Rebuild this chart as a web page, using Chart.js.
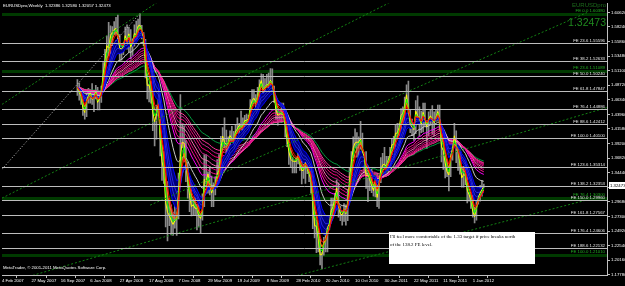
<!DOCTYPE html>
<html>
<head>
<meta charset="utf-8">
<script src="https://cdn.jsdelivr.net/npm/chart.js@4.4.1/dist/chart.umd.min.js"></script>
<style>
  html, body { margin: 0; padding: 0; background: #000; }
  #wrap { width: 625px; height: 286px; position: relative; }
</style>
</head>
<body>
<div id="wrap"><canvas id="chart" width="625" height="286"></canvas></div>
<script>
// weekly bars, week 0 = 4 Feb 2007, first bar is week 41 (18 Nov 2007)
const firstWeek = 41;
const highs = [
  1.4966,1.4910,1.4790,1.4760,1.4440,1.4740,1.4820,1.4790,1.4900,1.4780,
  1.4870,1.4840,1.4750,1.4860,1.5240,1.5460,1.5680,1.5900,1.5840,1.5830,
  1.5910,1.5980,1.6018,1.5700,1.5510,1.5560,1.5820,1.5860,1.5820,1.5780,
  1.5630,1.5860,1.5920,1.5950,1.6038,1.5850,1.5730,1.5620,1.5060,1.4890,
  1.4930,1.4760,1.4290,1.4550,1.4870,1.4590,1.3900,1.3790,1.3510,1.3300,
  1.3000,1.2920,1.2800,1.3000,1.2790,1.3440,1.4720,1.4230,1.4210,1.3970,
  1.3620,1.3340,1.3320,1.3010,1.3050,1.2930,1.2990,1.2760,1.3100,1.3740,
  1.3740,1.3460,1.3550,1.3390,1.3280,1.3380,1.3660,1.3740,1.4040,1.4180,
  1.4340,1.4140,1.4030,1.4130,1.4200,1.4120,1.4230,1.4340,1.4250,1.4450,
  1.4340,1.4380,1.4400,1.4380,1.4640,1.4800,1.4800,1.4720,1.4840,1.4960,
  1.5060,1.5050,1.4980,1.5050,1.5070,1.5144,1.5140,1.4860,1.4660,1.4450,
  1.4440,1.4580,1.4580,1.4430,1.4200,1.4000,1.3820,1.3690,1.3640,1.3690,
  1.3770,1.3810,1.3690,1.3580,1.3690,1.3690,1.3530,1.3480,1.3320,1.3090,
  1.2670,1.2490,1.2360,1.2140,1.2390,1.2440,1.2680,1.2720,1.3030,1.3030,
  1.3110,1.3330,1.3280,1.2900,1.2760,1.2940,1.2920,1.3160,1.3530,1.3790,
  1.4030,1.4160,1.4100,1.4030,1.4282,1.4090,1.3760,1.3790,1.3420,1.3400,
  1.3500,1.3260,1.3430,1.3440,1.3390,1.3690,1.3760,1.3860,1.3710,1.3710,
  1.3860,1.4000,1.4040,1.4220,1.4250,1.4250,1.4490,1.4520,1.4680,1.4880,
  1.4940,1.4480,1.4320,1.4220,1.4620,1.4700,1.4520,1.4450,1.4580,1.4580,
  1.4240,1.4440,1.4480,1.4540,1.4440,1.4480,1.4550,1.4550,1.4210,1.3850,
  1.3800,1.3650,1.3460,1.3910,1.3900,1.4250,1.4130,1.3870,1.3780,1.3550,
  1.3550,1.3550,1.3410,1.3120,1.3080,1.3080,1.2880,1.2980,1.3160,1.3240,
  1.3320,1.3258
];
const lows = [
  1.4705,1.4630,1.4560,1.4380,1.4320,1.4360,1.4580,1.4580,1.4560,1.4440,
  1.4650,1.4470,1.4470,1.4590,1.4810,1.5150,1.5270,1.5350,1.5380,1.5520,
  1.5700,1.5690,1.5590,1.5280,1.5280,1.5370,1.5500,1.5460,1.5420,1.5300,
  1.5360,1.5510,1.5620,1.5620,1.5780,1.5630,1.5520,1.4990,1.4650,1.4600,
  1.4580,1.4130,1.3880,1.3990,1.4370,1.3720,1.3320,1.3270,1.2560,1.2330,
  1.2580,1.2430,1.2420,1.2540,1.2420,1.2690,1.3320,1.3850,1.3620,1.3300,
  1.3030,1.2810,1.2740,1.2760,1.2760,1.2510,1.2560,1.2460,1.2670,1.2890,
  1.3260,1.3110,1.3080,1.2890,1.2890,1.3080,1.3210,1.3450,1.3430,1.3860,
  1.3850,1.3730,1.3740,1.3820,1.3950,1.3830,1.3850,1.4090,1.3990,1.4140,
  1.4050,1.4050,1.4150,1.4130,1.4330,1.4560,1.4590,1.4480,1.4550,1.4630,
  1.4870,1.4580,1.4620,1.4830,1.4830,1.4830,1.4780,1.4590,1.4310,1.4220,
  1.4300,1.4260,1.4340,1.4030,1.3870,1.3580,1.3530,1.3440,1.3440,1.3440,
  1.3590,1.3480,1.3260,1.3350,1.3270,1.3430,1.3300,1.3110,1.2530,1.2380,
  1.2140,1.2150,1.1940,1.1876,1.2100,1.2150,1.2150,1.2520,1.2620,1.2730,
  1.2840,1.3050,1.2720,1.2660,1.2590,1.2650,1.2590,1.2660,1.3040,1.3470,
  1.3690,1.3850,1.3700,1.3690,1.3830,1.3590,1.3460,1.3190,1.2970,1.3150,
  1.3120,1.3060,1.3050,1.2890,1.2860,1.3280,1.3530,1.3550,1.3430,1.3400,
  1.3620,1.3740,1.3840,1.3750,1.4020,1.4050,1.4080,1.4250,1.4150,1.4580,
  1.4310,1.4100,1.4050,1.3970,1.4080,1.4310,1.4040,1.4100,1.4110,1.4210,
  1.3840,1.4050,1.4220,1.4070,1.4050,1.4280,1.4300,1.4130,1.3620,1.3500,
  1.3360,1.3380,1.3146,1.3380,1.3650,1.3880,1.3610,1.3480,1.3420,1.3210,
  1.3210,1.3250,1.2950,1.2980,1.2860,1.2720,1.2624,1.2670,1.2930,1.2980,
  1.3060,1.3206
];
const closes = [
  1.4836,1.4720,1.4660,1.4410,1.4390,1.4720,1.4740,1.4770,1.4590,1.4680,
  1.4830,1.4500,1.4680,1.4820,1.5180,1.5360,1.5650,1.5450,1.5780,1.5770,
  1.5800,1.5810,1.5640,1.5370,1.5460,1.5520,1.5770,1.5520,1.5780,1.5380,
  1.5610,1.5790,1.5690,1.5910,1.5860,1.5710,1.5590,1.5010,1.4690,1.4880,
  1.4680,1.4280,1.4200,1.4470,1.4620,1.3770,1.3420,1.3420,1.2690,1.2720,
  1.2720,1.2620,1.2570,1.2690,1.2710,1.3390,1.3980,1.4060,1.3920,1.3410,
  1.3210,1.2940,1.2800,1.2940,1.2830,1.2870,1.2670,1.2680,1.2930,1.3580,
  1.3280,1.3490,1.3170,1.3040,1.3260,1.3280,1.3490,1.3520,1.3990,1.4150,
  1.3890,1.3880,1.3950,1.4110,1.3970,1.3960,1.4190,1.4180,1.4250,1.4190,
  1.4210,1.4340,1.4300,1.4340,1.4600,1.4680,1.4680,1.4550,1.4740,1.4950,
  1.4990,1.4710,1.4870,1.4900,1.4880,1.4990,1.4850,1.4620,1.4340,1.4340,
  1.4410,1.4410,1.4380,1.4140,1.3870,1.3690,1.3600,1.3620,1.3630,1.3630,
  1.3760,1.3530,1.3420,1.3490,1.3670,1.3460,1.3390,1.3290,1.2760,1.2390,
  1.2570,1.2270,1.1970,1.2110,1.2380,1.2390,1.2650,1.2640,1.2940,1.2910,
  1.3090,1.3280,1.2750,1.2710,1.2750,1.2900,1.2740,1.3050,1.3490,1.3790,
  1.3960,1.3970,1.3950,1.3940,1.4030,1.3690,1.3660,1.3240,1.3420,1.3290,
  1.3190,1.3110,1.3380,1.2910,1.3380,1.3610,1.3610,1.3590,1.3530,1.3700,
  1.3750,1.3990,1.3910,1.4180,1.4090,1.4230,1.4480,1.4430,1.4590,1.4810,
  1.4340,1.4120,1.4160,1.4130,1.4600,1.4340,1.4310,1.4180,1.4530,1.4260,
  1.4140,1.4380,1.4400,1.4280,1.4240,1.4390,1.4490,1.4220,1.3650,1.3780,
  1.3500,1.3390,1.3380,1.3880,1.3900,1.4150,1.3800,1.3750,1.3500,1.3240,
  1.3450,1.3380,1.3040,1.3050,1.2960,1.2720,1.2680,1.2930,1.3130,1.3150,
  1.3200,1.32473
];

// time axis labels (every 16 weeks)
const dateWeeks = [0,16,32,48,64,80,96,112,128,144,160,176,192,208,224,240,256];
const dateLabels = ['4 Feb 2007','27 May 2007','16 Sep 2007','6 Jan 2008','27 Apr 2008','17 Aug 2008',
  '7 Dec 2008','29 Mar 2009','19 Jul 2009','8 Nov 2009','28 Feb 2010','20 Jun 2010','10 Oct 2010',
  '30 Jan 2011','22 May 2011','11 Sep 2011','1 Jan 2012'];

// price axis labels
const priceTicks = [1.60620,1.58240,1.55860,1.53480,1.51100,1.48720,1.46340,1.43960,1.41580,1.39200,
  1.36820,1.34440,1.32060,1.29680,1.27300,1.24920,1.22540,1.20160,1.17780];

// Fibonacci expansion levels (white)
const feLevels = [0.0, 23.6, 38.2, 50.0, 61.8, 76.4, 88.6, 100.0, 123.6, 138.2, 150.0, 161.8, 176.4, 188.6];
const fePrices = [1.60380, 1.55596, 1.52633, 1.50240, 1.47847, 1.44886, 1.42412, 1.40100,
  1.35314, 1.32353, 1.29960, 1.27567, 1.24606, 1.22132];

// green retracement levels
const fibLevels = ['0.0', '23.6', '76.4', '100.0'];
const fibPrices = [1.60380, 1.51089, 1.30300, 1.21010];

// channel lines [week, price] pairs
const channelLines = [
  [[0, 1.4560], [100, 1.6530]],
  [[0, 1.3030], [220, 1.6360]],
  [[80.5, 1.2915], [318.1, 1.6058]],
  [[0, 1.1622], [329, 1.4508]],
  [[80.5, 1.1140], [318.1, 1.3000]]
];
const swingLine = [[0, 1.3501], [75, 1.6042]];

const lastBar = { open: 1.32386, high: 1.32580, low: 1.32057, close: 1.32473 };
const symbol = 'EURUSDpro';
const noteLines = ["I'll feel more comfortable of the 1.33 target if price breaks north", 'of the 138.2 FE level.'];

// moving average settings
const fastPeriods = [2, 3, 4, 5];
const fastColors = ['#ffff00', '#00ff00', '#ff8000', '#ff0000'];
const bluePeriods = [7, 9, 11, 14];
const silverPeriod = 20;
const pinkPeriods = [28, 32, 36, 40, 45, 50, 55, 60];
const pinkColors = ['#ff00ff', '#ff1493', '#e0007f', '#ff69b4', '#c71585', '#ff0080', '#d02090', '#ff3399'];
const greenPeriod = 72;

function ema(values, period) {
  const k = 2 / (period + 1);
  let prev = values[0];
  return values.map((v, i) => {
    prev = i === 0 ? v : v * k + prev * (1 - k);
    return prev;
  });
}

function toPoints(arr) {
  return arr.map((v, i) => ({ x: firstWeek + i, y: v }));
}

function maLine(period, color, order, width) {
  return {
    type: 'line',
    data: toPoints(ema(closes, period)),
    borderColor: color,
    borderWidth: width || 1,
    pointRadius: 0,
    fill: false,
    tension: 0,
    order: order
  };
}

const datasets = [];

// price bars
datasets.push({
  type: 'bar',
  data: highs.map((h, i) => ({ x: firstWeek + i, y: [lows[i], h] })),
  backgroundColor: '#8a8a8a',
  barThickness: 1,
  order: 100
});

// slow green
datasets.push(maLine(greenPeriod, '#00a040', 60));
// pink ribbon
pinkPeriods.forEach((p, i) => datasets.push(maLine(p, pinkColors[i], 50 - i)));
// silver
datasets.push(maLine(silverPeriod, '#c8c8c8', 35));
// blue band
const blueStart = datasets.length;
bluePeriods.forEach((p, i) => {
  const d = maLine(p, i === 0 || i === bluePeriods.length - 1 ? '#0000ff' : '#2828e0', 30 - i);
  if (i === 0) {
    d.fill = { target: blueStart + bluePeriods.length - 1 };
    d.backgroundColor = '#000078';
  }
  datasets.push(d);
});
// fast lines
fastPeriods.forEach((p, i) => datasets.push(maLine(p, fastColors[i], 20 - i)));

// channel lines
channelLines.forEach(l => {
  datasets.push({
    type: 'line',
    data: l.map(p => ({ x: p[0], y: p[1] })),
    borderColor: '#138013',
    borderWidth: 1,
    borderDash: [2, 2],
    pointRadius: 0,
    fill: false,
    order: 5
  });
});
datasets.push({
  type: 'line',
  data: swingLine.map(p => ({ x: p[0], y: p[1] })),
  borderColor: '#c0c0c0',
  borderWidth: 1,
  borderDash: [1, 2],
  pointRadius: 0,
  fill: false,
  order: 5
});

const smallFont = '4.3px "Liberation Sans", Arial, sans-serif';

const overlay = {
  id: 'overlay',
  beforeDatasetsDraw(chart) {
    const c = chart.ctx, a = chart.chartArea, y = chart.scales.y;
    c.save();
    c.fillStyle = '#003a00';
    fibPrices.forEach(p => {
      const py = Math.round(y.getPixelForValue(p));
      c.fillRect(a.left, py - 1, a.right - a.left, 3);
    });
    c.restore();
  },
  afterDatasetsDraw(chart) {
    const c = chart.ctx, a = chart.chartArea, y = chart.scales.y;
    c.save();
    c.strokeStyle = '#bdbdbd';
    c.lineWidth = 1;
    fePrices.forEach((p, i) => {
      const py = Math.round(y.getPixelForValue(p)) + 0.5;
      if (i > 0) {
        c.beginPath();
        c.moveTo(a.left, py);
        c.lineTo(a.right, py);
        c.stroke();
      }
    });
    c.font = smallFont;
    c.textAlign = 'right';
    c.textBaseline = 'bottom';
    c.fillStyle = '#e8e8e8';
    fePrices.forEach((p, i) => {
      if (i === 0) return;
      const py = Math.round(y.getPixelForValue(p));
      c.fillText('FE ' + feLevels[i].toFixed(1) + ' ' + p.toFixed(5), a.right - 2, py);
    });
    c.fillStyle = '#22b022';
    fibPrices.forEach((p, i) => {
      const py = Math.round(y.getPixelForValue(p));
      c.fillText('FE ' + fibLevels[i] + ' ' + p.toFixed(5), a.right - 2, py - 1);
    });
    c.restore();
  },
  afterDraw(chart) {
    const c = chart.ctx, a = chart.chartArea, y = chart.scales.y;
    c.save();
    // title
    c.font = smallFont;
    c.fillStyle = '#ffffff';
    c.textAlign = 'left';
    c.textBaseline = 'middle';
    c.fillText(symbol + ',Weekly  ' + lastBar.open.toFixed(5) + ' ' + lastBar.high.toFixed(5) + ' ' +
      lastBar.low.toFixed(5) + ' ' + lastBar.close.toFixed(5), 3, 6);
    c.fillText('MetaTrader, \u00a9 2001-2011 MetaQuotes Software Corp.', 3, 268);
    // symbol watermark
    c.textAlign = 'right';
    c.fillStyle = '#1c6b1c';
    c.font = '6px "Liberation Sans", Arial, sans-serif';
    c.fillText(symbol, a.right - 1, 5);
    c.fillStyle = '#1f8a1f';
    c.font = '10.5px "Liberation Sans", Arial, sans-serif';
    c.fillText(lastBar.close.toFixed(5), a.right - 1, 23);
    // bid label on axis
    const by = Math.round(y.getPixelForValue(lastBar.close));
    c.fillStyle = '#ffffff';
    c.fillRect(a.right + 2, by - 3, 625 - a.right - 2, 7);
    c.fillStyle = '#000000';
    c.font = smallFont;
    c.textAlign = 'left';
    c.fillText(lastBar.close.toFixed(5), a.right + 3, by + 0.5);
    // note box
    c.fillStyle = '#ffffff';
    c.fillRect(389, 232, 146, 32);
    c.fillStyle = '#000000';
    c.font = '4.9px "Liberation Serif", "Times New Roman", serif';
    c.textBaseline = 'alphabetic';
    c.fillText(noteLines[0], 390, 238);
    c.fillText(noteLines[1], 390, 246);
    c.restore();
  }
};

new Chart(document.getElementById('chart').getContext('2d'), {
  type: 'bar',
  data: { datasets: datasets },
  options: {
    responsive: false,
    animation: false,
    events: [],
    layout: { padding: { top: 3, left: 2, right: 0, bottom: 0 } },
    plugins: { legend: { display: false }, tooltip: { enabled: false } },
    scales: {
      x: {
        type: 'linear',
        min: 0,
        max: 329,
        offset: false,
        grid: { drawOnChartArea: false, color: '#c0c0c0', tickLength: 3 },
        border: { color: '#c0c0c0' },
        ticks: {
          autoSkip: false,
          maxRotation: 0,
          align: 'start',
          padding: 0,
          color: '#ffffff',
          font: { family: '"Liberation Sans", Arial, sans-serif', size: 4.3 },
          callback: (v, i) => dateLabels[i]
        },
        afterBuildTicks: s => { s.ticks = dateWeeks.map(v => ({ value: v })); },
        afterFit: s => { s.height = 11; }
      },
      y: {
        position: 'right',
        min: 1.1775,
        max: 1.6205,
        grid: { drawOnChartArea: false, color: '#c0c0c0', tickLength: 3 },
        border: { color: '#c0c0c0' },
        ticks: {
          padding: 1,
          color: '#ffffff',
          font: { family: '"Liberation Sans", Arial, sans-serif', size: 4.3 },
          callback: (v, i) => priceTicks[i].toFixed(5)
        },
        afterBuildTicks: s => { s.ticks = priceTicks.map(v => ({ value: v })); },
        afterFit: s => { s.width = 18; }
      }
    }
  },
  plugins: [overlay]
});
</script>
</body>
</html>
